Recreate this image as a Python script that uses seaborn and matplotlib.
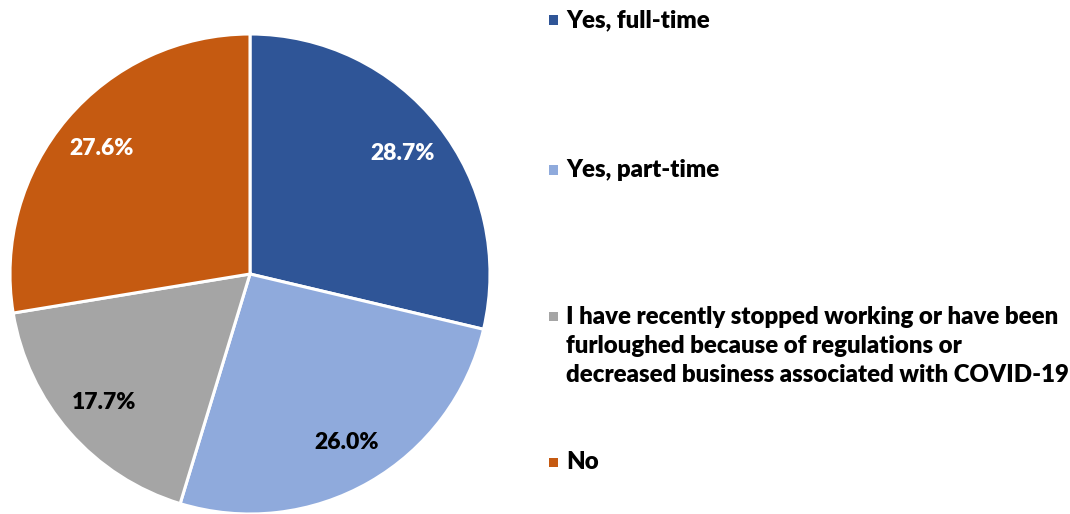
import matplotlib
matplotlib.use("Agg")
import matplotlib.pyplot as plt
from matplotlib.patches import Rectangle
import seaborn as sns

categories = [
    "Yes, full-time",
    "Yes, part-time",
    "I have recently stopped working or have been\nfurloughed because of regulations or\ndecreased business associated with COVID-19",
    "No",
]
shares = [28.7, 26.0, 17.7, 27.6]
colors = ["#2F5597", "#8FAADC", "#A5A5A5", "#C55A11"]
label_colors = ["white", "black", "black", "white"]

sns.set_theme(style="white")
plt.rcParams["font.family"] = ["Lato", "DejaVu Sans"]

W, H = 1070, 514
fig = plt.figure(figsize=(W / 100, H / 100), dpi=100)
fig.patch.set_facecolor("white")

# square axes holding the pie (pixel geometry converted to figure fractions)
ax = fig.add_axes([10 / W, 0 / H, 480 / W, 480 / H])
wedges, _, autotexts = ax.pie(
    shares,
    colors=sns.color_palette(colors),
    startangle=90,
    counterclock=False,
    autopct="%.1f%%",
    pctdistance=0.81,
    wedgeprops=dict(edgecolor="white", linewidth=2.2),
    textprops=dict(fontsize=16.5, fontweight="heavy"),
)
for t, c in zip(autotexts, label_colors):
    t.set_color(c)
ax.set_xlim(-1.0, 1.0)
ax.set_ylim(-1.0, 1.0)
ax.set_aspect("equal")
ax.axis("off")

# legend entries: small colour square followed by bold text
legend_y = [20, 170, 346, 462]  # vertical centres in pixels from the top
line_px = 30
for label, col, yc in zip(categories, colors, legend_y):
    nlines = label.count("\n") + 1
    top_line_y = yc - (nlines - 1) * line_px / 2
    sq = 9
    fig.patches.append(Rectangle((549 / W, 1 - (top_line_y + sq / 2) / H), sq / W, sq / H,
                                 transform=fig.transFigure, facecolor=col, edgecolor="none"))
    fig.text(566 / W, 1 - yc / H, label, ha="left", va="center",
             fontsize=17.3, fontweight="heavy", color="black", linespacing=1.38)

fig.savefig("out.png", dpi=100, facecolor="white")
